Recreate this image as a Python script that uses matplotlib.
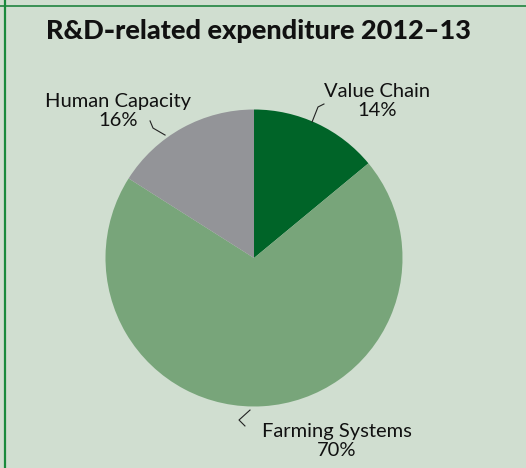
import matplotlib
matplotlib.use("Agg")
import matplotlib.pyplot as plt
from matplotlib.lines import Line2D

# Expenditure shares (%)
categories = ["Value Chain", "Farming Systems", "Human Capacity"]
shares = [14, 70, 16]
colors = ["#006428", "#78a57a", "#939498"]

title = "R&D\u2011related expenditure 2012\u201313"

W, H = 526, 468
bg = "#d0ded0"
fig = plt.figure(figsize=(W / 100, H / 100), dpi=100, facecolor=bg)
plt.rcParams["font.family"] = ["Lato", "DejaVu Sans"]

# frame lines (top and left)
fig.add_artist(Line2D([0, 1], [1 - 5.5 / H, 1 - 5.5 / H], transform=fig.transFigure,
                      color="#2e8a4a", lw=1.3))
fig.add_artist(Line2D([4.5 / W, 4.5 / W], [0, 1], transform=fig.transFigure,
                      color="#1a8a3c", lw=1.6))

fig.text(258 / W, 1 - 31 / H, title, ha="center", va="center",
         fontsize=19.5, fontweight="black", color="#111111")

# pie axes
cx, cy, r = 254, 258, 148.5
ax = fig.add_axes([(cx - r) / W, 1 - (cy + r) / H, 2 * r / W, 2 * r / H])
ax.set_facecolor(bg)
ax.pie(shares, colors=colors, startangle=90, counterclock=False, radius=1,
       wedgeprops=dict(linewidth=0))
ax.set_xlim(-1, 1)
ax.set_ylim(-1, 1)
ax.set_aspect("equal")
ax.axis("off")

# labels and leader lines
label_pos = {
    "Value Chain": (377, 101),
    "Farming Systems": (337, 441),
    "Human Capacity": (118, 111),
}
leaders = {
    "Value Chain": [(0.471, 1.037), (0.431, 1.017), (0.391, 0.916)],
    "Farming Systems": [(-0.027, -1.024), (-0.101, -1.091), (-0.061, -1.131)],
    "Human Capacity": [(-0.700, 0.923), (-0.680, 0.875), (-0.599, 0.828)],
}
for cat, val in zip(categories, shares):
    x, y = label_pos[cat]
    fig.text(x / W, 1 - y / H, f"{cat}\n{val}%", ha="center", va="center",
             multialignment="center", fontsize=14.5, color="#111111",
             linespacing=1.15)
    pts = leaders[cat]
    ax.plot([p[0] for p in pts], [p[1] for p in pts], color="#222222",
            lw=0.8, clip_on=False)

fig.savefig("out.png", dpi=100, facecolor=bg)
